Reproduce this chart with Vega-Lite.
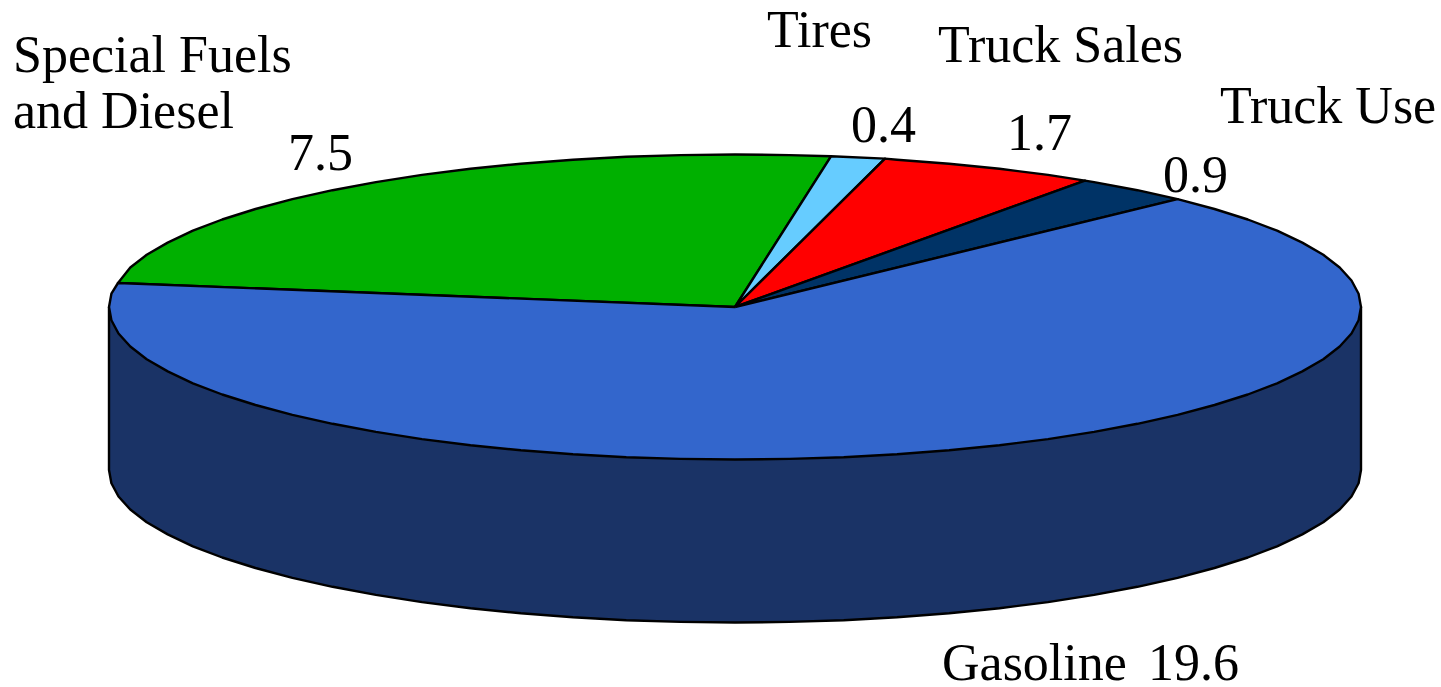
{"$schema":"https://vega.github.io/schema/vega-lite/v6.json","width":1441,"height":687,"padding":0,"autosize":"none","background":"white","view":{"stroke":null},
"datasets":{"outline":[
{"part":"Side","seq":1,"x":109,"y":307},{"part":"Side","seq":2,"x":109,"y":470},{"part":"Side","seq":3,"x":111.4,"y":483.3},{"part":"Side","seq":4,"x":118.5,"y":496.5},{"part":"Side","seq":5,"x":130.3,"y":509.5},{"part":"Side","seq":6,"x":146.7,"y":522.2},{"part":"Side","seq":7,"x":167.7,"y":534.4},{"part":"Side","seq":8,"x":192.9,"y":546.3},{"part":"Side","seq":9,"x":222.2,"y":557.5},{"part":"Side","seq":10,"x":255.5,"y":568},{"part":"Side","seq":11,"x":292.4,"y":577.8},{"part":"Side","seq":12,"x":332.6,"y":586.8},{"part":"Side","seq":13,"x":375.9,"y":594.9},{"part":"Side","seq":14,"x":422,"y":602.1},{"part":"Side","seq":15,"x":470.5,"y":608.2},{"part":"Side","seq":16,"x":520.9,"y":613.3},{"part":"Side","seq":17,"x":573,"y":617.3},{"part":"Side","seq":18,"x":626.3,"y":620.2},{"part":"Side","seq":19,"x":680.4,"y":621.9},{"part":"Side","seq":20,"x":735,"y":622.5},{"part":"Side","seq":21,"x":789.6,"y":621.9},{"part":"Side","seq":22,"x":843.7,"y":620.2},{"part":"Side","seq":23,"x":897,"y":617.3},{"part":"Side","seq":24,"x":949.1,"y":613.3},{"part":"Side","seq":25,"x":999.5,"y":608.2},{"part":"Side","seq":26,"x":1048,"y":602.1},{"part":"Side","seq":27,"x":1094.1,"y":594.9},{"part":"Side","seq":28,"x":1137.4,"y":586.8},{"part":"Side","seq":29,"x":1177.6,"y":577.8},{"part":"Side","seq":30,"x":1214.5,"y":568},{"part":"Side","seq":31,"x":1247.8,"y":557.5},{"part":"Side","seq":32,"x":1277.1,"y":546.3},{"part":"Side","seq":33,"x":1302.3,"y":534.4},{"part":"Side","seq":34,"x":1323.3,"y":522.2},{"part":"Side","seq":35,"x":1339.7,"y":509.5},{"part":"Side","seq":36,"x":1351.5,"y":496.5},{"part":"Side","seq":37,"x":1358.6,"y":483.3},{"part":"Side","seq":38,"x":1361,"y":470},{"part":"Side","seq":39,"x":1361,"y":307},{"part":"Side","seq":40,"x":109,"y":307},
{"part":"Special Fuels and Diesel","seq":1,"x":735,"y":307},{"part":"Special Fuels and Diesel","seq":2,"x":118,"y":283},{"part":"Special Fuels and Diesel","seq":3,"x":130.3,"y":267.5},{"part":"Special Fuels and Diesel","seq":4,"x":146.7,"y":254.8},{"part":"Special Fuels and Diesel","seq":5,"x":167.7,"y":242.6},{"part":"Special Fuels and Diesel","seq":6,"x":192.9,"y":230.7},{"part":"Special Fuels and Diesel","seq":7,"x":222.2,"y":219.5},{"part":"Special Fuels and Diesel","seq":8,"x":255.5,"y":209},{"part":"Special Fuels and Diesel","seq":9,"x":292.4,"y":199.2},{"part":"Special Fuels and Diesel","seq":10,"x":332.6,"y":190.2},{"part":"Special Fuels and Diesel","seq":11,"x":375.9,"y":182.1},{"part":"Special Fuels and Diesel","seq":12,"x":422,"y":174.9},{"part":"Special Fuels and Diesel","seq":13,"x":470.5,"y":168.8},{"part":"Special Fuels and Diesel","seq":14,"x":520.9,"y":163.7},{"part":"Special Fuels and Diesel","seq":15,"x":573,"y":159.7},{"part":"Special Fuels and Diesel","seq":16,"x":626.3,"y":156.8},{"part":"Special Fuels and Diesel","seq":17,"x":680.4,"y":155.1},{"part":"Special Fuels and Diesel","seq":18,"x":735,"y":154.5},{"part":"Special Fuels and Diesel","seq":19,"x":789.6,"y":155.1},{"part":"Special Fuels and Diesel","seq":20,"x":831,"y":156.3},{"part":"Special Fuels and Diesel","seq":21,"x":735,"y":307},
{"part":"Tires","seq":1,"x":735,"y":307},{"part":"Tires","seq":2,"x":831,"y":156.3},{"part":"Tires","seq":3,"x":885,"y":158.6},{"part":"Tires","seq":4,"x":735,"y":307},
{"part":"Truck Sales","seq":1,"x":735,"y":307},{"part":"Truck Sales","seq":2,"x":885,"y":158.6},{"part":"Truck Sales","seq":3,"x":897,"y":159.7},{"part":"Truck Sales","seq":4,"x":949.1,"y":163.7},{"part":"Truck Sales","seq":5,"x":999.5,"y":168.8},{"part":"Truck Sales","seq":6,"x":1048,"y":174.9},{"part":"Truck Sales","seq":7,"x":1085,"y":180.6},{"part":"Truck Sales","seq":8,"x":735,"y":307},
{"part":"Truck Use","seq":1,"x":735,"y":307},{"part":"Truck Use","seq":2,"x":1085,"y":180.6},{"part":"Truck Use","seq":3,"x":1094.1,"y":182.1},{"part":"Truck Use","seq":4,"x":1137.4,"y":190.2},{"part":"Truck Use","seq":5,"x":1177.6,"y":199.2},{"part":"Truck Use","seq":6,"x":735,"y":307},
{"part":"Gasoline","seq":1,"x":735,"y":307},{"part":"Gasoline","seq":2,"x":1177.6,"y":199.2},{"part":"Gasoline","seq":3,"x":1214.5,"y":209},{"part":"Gasoline","seq":4,"x":1247.8,"y":219.5},{"part":"Gasoline","seq":5,"x":1277.1,"y":230.7},{"part":"Gasoline","seq":6,"x":1302.3,"y":242.6},{"part":"Gasoline","seq":7,"x":1323.3,"y":254.8},{"part":"Gasoline","seq":8,"x":1339.7,"y":267.5},{"part":"Gasoline","seq":9,"x":1351.5,"y":280.5},{"part":"Gasoline","seq":10,"x":1358.6,"y":293.7},{"part":"Gasoline","seq":11,"x":1361,"y":307},{"part":"Gasoline","seq":12,"x":1358.6,"y":320.3},{"part":"Gasoline","seq":13,"x":1351.5,"y":333.5},{"part":"Gasoline","seq":14,"x":1339.7,"y":346.5},{"part":"Gasoline","seq":15,"x":1323.3,"y":359.2},{"part":"Gasoline","seq":16,"x":1302.3,"y":371.4},{"part":"Gasoline","seq":17,"x":1277.1,"y":383.3},{"part":"Gasoline","seq":18,"x":1247.8,"y":394.5},{"part":"Gasoline","seq":19,"x":1214.5,"y":405},{"part":"Gasoline","seq":20,"x":1177.6,"y":414.8},{"part":"Gasoline","seq":21,"x":1137.4,"y":423.8},{"part":"Gasoline","seq":22,"x":1094.1,"y":431.9},{"part":"Gasoline","seq":23,"x":1048,"y":439.1},{"part":"Gasoline","seq":24,"x":999.5,"y":445.2},{"part":"Gasoline","seq":25,"x":949.1,"y":450.3},{"part":"Gasoline","seq":26,"x":897,"y":454.3},{"part":"Gasoline","seq":27,"x":843.7,"y":457.2},{"part":"Gasoline","seq":28,"x":789.6,"y":458.9},{"part":"Gasoline","seq":29,"x":735,"y":459.5},{"part":"Gasoline","seq":30,"x":680.4,"y":458.9},{"part":"Gasoline","seq":31,"x":626.3,"y":457.2},{"part":"Gasoline","seq":32,"x":573,"y":454.3},{"part":"Gasoline","seq":33,"x":520.9,"y":450.3},{"part":"Gasoline","seq":34,"x":470.5,"y":445.2},{"part":"Gasoline","seq":35,"x":422,"y":439.1},{"part":"Gasoline","seq":36,"x":375.9,"y":431.9},{"part":"Gasoline","seq":37,"x":332.6,"y":423.8},{"part":"Gasoline","seq":38,"x":292.4,"y":414.8},{"part":"Gasoline","seq":39,"x":255.5,"y":405},{"part":"Gasoline","seq":40,"x":222.2,"y":394.5},{"part":"Gasoline","seq":41,"x":192.9,"y":383.3},{"part":"Gasoline","seq":42,"x":167.7,"y":371.4},{"part":"Gasoline","seq":43,"x":146.7,"y":359.2},{"part":"Gasoline","seq":44,"x":130.3,"y":346.5},{"part":"Gasoline","seq":45,"x":118.5,"y":333.5},{"part":"Gasoline","seq":46,"x":111.4,"y":320.3},{"part":"Gasoline","seq":47,"x":109,"y":307},{"part":"Gasoline","seq":48,"x":111.4,"y":293.7},{"part":"Gasoline","seq":49,"x":118,"y":283},{"part":"Gasoline","seq":50,"x":735,"y":307}
],
"names":[
{"text":"Special Fuels","x":13,"y":72},{"text":"and Diesel","x":13,"y":128},{"text":"Tires","x":767,"y":47},{"text":"Truck Sales","x":938,"y":62},{"text":"Truck Use","x":1220,"y":123},{"text":"Gasoline","x":942,"y":680}
],
"values":[
{"text":"7.5","x":288,"y":170},{"text":"0.4","x":851,"y":142},{"text":"1.7","x":1007,"y":150},{"text":"0.9","x":1163,"y":192},{"text":"19.6","x":1148,"y":680}
]},
"layer":[
{"data":{"name":"outline"},"mark":{"type":"line","stroke":"black","strokeWidth":2.4,"strokeJoin":"round","clip":false},
"encoding":{"x":{"field":"x","type":"quantitative","scale":{"domain":[0,1441],"nice":false,"zero":false},"axis":null},
"y":{"field":"y","type":"quantitative","scale":{"domain":[687,0],"nice":false,"zero":false},"axis":null},
"order":{"field":"seq","type":"quantitative"},
"fill":{"field":"part","type":"nominal","legend":null,"scale":{"domain":["Side","Special Fuels and Diesel","Tires","Truck Sales","Truck Use","Gasoline"],"range":["#1A3366","#00B000","#66CCFF","#FF0000","#003366","#3366CC"]}}}},
{"data":{"name":"names"},"mark":{"type":"text","font":"Liberation Serif","fontSize":52,"align":"left","baseline":"alphabetic","color":"black"},
"encoding":{"x":{"field":"x","type":"quantitative"},"y":{"field":"y","type":"quantitative"},"text":{"field":"text"}}},
{"data":{"name":"values"},"mark":{"type":"text","font":"Liberation Serif","fontSize":52,"align":"left","baseline":"alphabetic","color":"black"},
"encoding":{"x":{"field":"x","type":"quantitative"},"y":{"field":"y","type":"quantitative"},"text":{"field":"text"}}}
]}
